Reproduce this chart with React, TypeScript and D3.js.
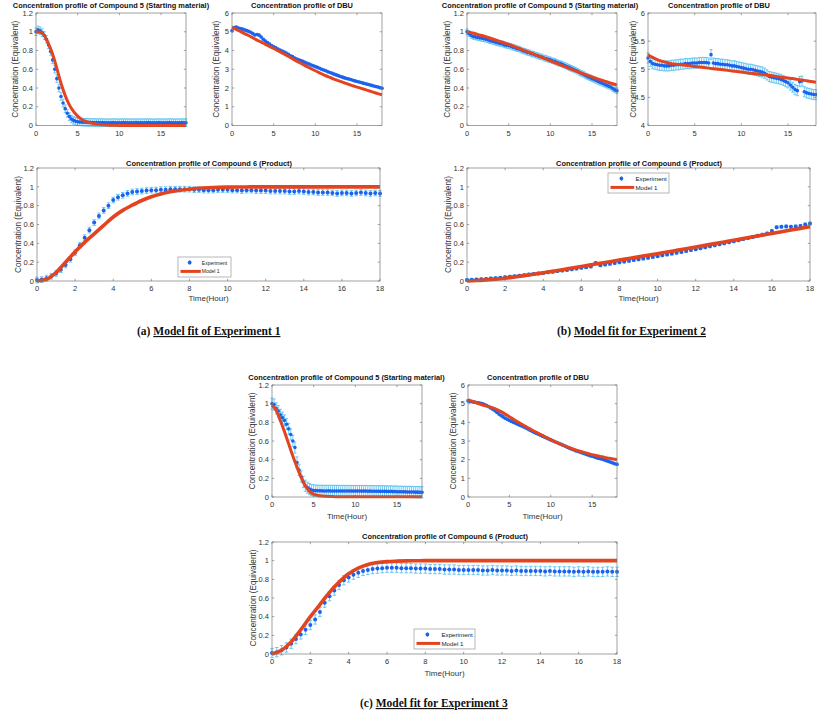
import React from 'react';
import * as d3 from 'd3';

// ---------- sampling grids (hours) ----------
const T_EXP = [0,0.25,0.5,0.75,1,1.25,1.5,1.75,2,2.25,2.5,2.75,3,3.25,3.5,3.75,4,4.25,4.5,4.75,5,5.25,5.5,5.75,6,6.25,6.5,6.75,7,7.25,7.5,7.75,8,8.25,8.5,8.75,9,9.25,9.5,9.75,10,10.25,10.5,10.75,11,11.25,11.5,11.75,12,12.25,12.5,12.75,13,13.25,13.5,13.75,14,14.25,14.5,14.75,15,15.25,15.5,15.75,16,16.25,16.5,16.75,17,17.25,17.5,17.75,18];
const T_MOD = [0,0.5,1,1.5,2,2.5,3,3.5,4,4.5,5,5.5,6,6.5,7,7.5,8,8.5,9,9.5,10,10.5,11,11.5,12,12.5,13,13.5,14,14.5,15,15.5,16,16.5,17,17.5,18];

// ---------- Experiment 1 ----------
const EXP1_C5 = [1.00,1.02,1.01,0.99, 0.96,0.92,0.86,0.79, 0.70,0.60,0.50,0.40, 0.31,0.24,0.18,0.13, 0.095,0.07,0.055,0.045, 0.04,0.038,0.036,0.035, 0.034,0.033,0.033,0.032, 0.032,0.031,0.031,0.03, 0.031,0.03,0.03,0.029, 0.03,0.031,0.03,0.03, 0.029,0.03,0.031,0.03, 0.03,0.029,0.03,0.03, 0.031,0.03,0.029,0.03, 0.03,0.03,0.031,0.03, 0.029,0.03,0.03,0.031, 0.03,0.029,0.03,0.03, 0.031,0.03,0.03,0.029, 0.03,0.03,0.031,0.03, 0.03];
const MOD1_C5 = [1.0,0.995,0.96,0.87,0.76,0.61,0.45,0.32,0.22,0.15,0.10,0.065,0.043,0.028,0.018,0.012,0.008,0.005,0.003,0.002,0.001,0.001,0.001,0,0,0,0,0,0,0,0,0,0,0,0,0,0];
const EXP1_DBU = [5.05,5.22,5.25,5.2, 5.17,5.14,5.1,5.06, 5.02,4.97,4.9,4.83, 4.85,4.82,4.72,4.6, 4.5,4.42,4.34,4.27, 4.2,4.14,4.08,4.02, 3.97,3.92,3.86,3.8, 3.72,3.68,3.6,3.55, 3.5,3.46,3.42,3.37, 3.32,3.28,3.23,3.19, 3.14,3.1,3.05,3.0, 2.96,2.92,2.87,2.83, 2.79,2.74,2.7,2.66, 2.61,2.58,2.54,2.51, 2.48,2.45,2.41,2.38, 2.35,2.32,2.29,2.26, 2.23,2.2,2.17,2.14, 2.11,2.08,2.05,2.02, 1.99];
const MOD1_DBU = [5.25,5.13,5.02,4.9,4.8,4.68,4.55,4.45,4.33,4.22,4.11,3.99,3.87,3.75,3.63,3.5,3.38,3.26,3.14,3.03,2.92,2.81,2.7,2.61,2.52,2.43,2.35,2.27,2.19,2.12,2.05,1.98,1.91,1.84,1.77,1.7,1.64];
const EXP1_P = [0.01,0.015,0.03,0.05, 0.08,0.12,0.17,0.23, 0.30,0.38,0.46,0.54, 0.62,0.69,0.75,0.8, 0.86,0.89,0.91,0.93, 0.945,0.95,0.955,0.96, 0.965,0.965,0.97,0.97, 0.975,0.975,0.975,0.975, 0.975,0.97,0.97,0.965, 0.965,0.965,0.97,0.97, 0.97,0.965,0.965,0.96, 0.965,0.965,0.96,0.96, 0.96,0.955,0.955,0.955, 0.955,0.95,0.95,0.955, 0.95,0.945,0.945,0.94, 0.94,0.94,0.935,0.93, 0.935,0.935,0.93,0.935, 0.94,0.935,0.93,0.935, 0.93];
const MOD1_P = [0,0.018,0.09,0.2,0.31,0.41,0.5,0.59,0.68,0.75,0.805,0.855,0.895,0.925,0.947,0.963,0.975,0.985,0.991,0.995,0.997,0.998,0.999,1,1,1,1,1,1,1,1,1,1,1,1,1,1];

// ---------- Experiment 2 ----------
const EXP2_C5 = [1.0,0.98,0.96,0.95, 0.945,0.94,0.935,0.93, 0.925,0.92,0.915,0.905, 0.9,0.895,0.885,0.88, 0.875,0.87,0.86,0.855, 0.85,0.845,0.835,0.83, 0.82,0.815,0.805,0.795, 0.79,0.78,0.775,0.765, 0.76,0.75,0.745,0.735, 0.73,0.72,0.715,0.705, 0.7,0.69,0.685,0.675, 0.665,0.66,0.65,0.64, 0.63,0.62,0.61,0.6, 0.59,0.58,0.565,0.555, 0.545,0.53,0.52,0.51, 0.5,0.49,0.48,0.47, 0.46,0.45,0.44,0.43, 0.42,0.41,0.395,0.38, 0.37];
const MOD2_C5 = [1.0,0.99,0.98,0.965,0.955,0.94,0.925,0.91,0.895,0.88,0.865,0.85,0.83,0.815,0.797,0.78,0.762,0.744,0.726,0.708,0.69,0.672,0.654,0.636,0.618,0.6,0.583,0.566,0.55,0.534,0.518,0.503,0.488,0.473,0.459,0.445,0.43];
const EXP2_DBU = [5.2,5.14,5.1,5.09, 5.08,5.07,5.07,5.06, 5.06,5.06,5.07,5.07, 5.08,5.08,5.09,5.09, 5.1,5.1,5.1,5.11, 5.11,5.11,5.12,5.12, 5.12,5.12,5.11,5.26, 5.11,5.1,5.1,5.09, 5.09,5.08,5.08,5.07, 5.06,5.06,5.05,5.04, 5.03,5.02,5.01,5.0, 5.0,4.99,4.98,4.97, 4.96,4.95,4.93,4.9, 4.87,4.86,4.85,4.84, 4.83,4.82,4.8,4.78, 4.76,4.72,4.68,4.64, 4.62,4.78,4.79,4.6, 4.58,4.57,4.56,4.55, 4.55];
const MOD2_DBU = [5.26,5.21,5.17,5.14,5.12,5.1,5.09,5.08,5.07,5.06,5.05,5.04,5.03,5.02,5.01,5.0,4.99,4.98,4.97,4.96,4.95,4.94,4.93,4.92,4.91,4.9,4.89,4.88,4.865,4.855,4.845,4.835,4.82,4.81,4.795,4.783,4.77];
const EXP2_P = [0.01,0.012,0.015,0.018, 0.022,0.026,0.03,0.034, 0.04,0.045,0.05,0.055, 0.062,0.068,0.074,0.08, 0.086,0.092,0.098,0.105, 0.112,0.118,0.125,0.132, 0.14,0.147,0.155,0.19, 0.168,0.175,0.183,0.19, 0.198,0.206,0.214,0.222, 0.23,0.238,0.247,0.255, 0.264,0.273,0.282,0.291, 0.3,0.309,0.318,0.328, 0.338,0.348,0.358,0.368, 0.379,0.39,0.4,0.411, 0.422,0.433,0.445,0.456, 0.468,0.48,0.492,0.504, 0.53,0.57,0.575,0.58, 0.575,0.58,0.585,0.6, 0.61];
const MOD2_P = [0,0.005,0.012,0.02,0.03,0.043,0.057,0.072,0.088,0.104,0.12,0.137,0.154,0.171,0.188,0.205,0.222,0.239,0.256,0.273,0.29,0.307,0.325,0.343,0.361,0.379,0.397,0.415,0.433,0.451,0.469,0.487,0.505,0.523,0.541,0.559,0.577];

// ---------- Experiment 3 ----------
const EXP3_C5 = [1.0,0.99,0.95,0.92, 0.88,0.85,0.82,0.78, 0.73,0.67,0.6,0.53, 0.37,0.29,0.22,0.16, 0.12,0.1,0.085,0.075, 0.07,0.068,0.067,0.066, 0.066,0.065,0.065,0.066, 0.065,0.065,0.064,0.065, 0.065,0.064,0.065,0.064, 0.064,0.065,0.064,0.063, 0.064,0.063,0.064,0.063, 0.063,0.064,0.062,0.063, 0.062,0.062,0.061,0.062, 0.06,0.061,0.06,0.06, 0.059,0.06,0.058,0.058, 0.057,0.056,0.056,0.055, 0.055,0.054,0.054,0.053, 0.053,0.052,0.052,0.051, 0.05];
const MOD3_C5 = [0.985,0.93,0.82,0.7,0.57,0.44,0.32,0.21,0.12,0.06,0.03,0.017,0.01,0.007,0.005,0.004,0.003,0.003,0.002,0.002,0.002,0.002,0.002,0.002,0.002,0.002,0.002,0.002,0.002,0.002,0.002,0.002,0.002,0.002,0.002,0.002,0.002];
const EXP3_DBU = [5.15,5.12,5.1,5.08, 5.06,5.04,5.02,4.99, 4.95,4.9,4.84,4.77, 4.7,4.62,4.53,4.44, 4.36,4.29,4.22,4.16, 4.1,4.05,4.0,3.95, 3.9,3.85,3.8,3.75, 3.7,3.64,3.58,3.52, 3.46,3.41,3.36,3.31, 3.26,3.21,3.16,3.11, 3.06,3.01,2.96,2.92, 2.87,2.82,2.77,2.72, 2.66,2.62,2.57,2.53, 2.48,2.45,2.41,2.37, 2.33,2.29,2.25,2.21, 2.18,2.15,2.11,2.08, 2.05,2.02,1.98,1.94, 1.9,1.86,1.82,1.78, 1.75];
const MOD3_DBU = [5.22,5.13,5.05,4.97,4.9,4.84,4.77,4.68,4.57,4.44,4.3,4.16,4.03,3.9,3.77,3.65,3.52,3.41,3.3,3.18,3.07,2.96,2.86,2.77,2.68,2.6,2.52,2.45,2.39,2.33,2.27,2.22,2.17,2.12,2.08,2.04,2.0];
const EXP3_P = [0.01,0.02,0.04,0.07, 0.11,0.16,0.21,0.26, 0.31,0.37,0.45,0.55, 0.62,0.68,0.74,0.79, 0.82,0.85,0.87,0.89, 0.9,0.91,0.915,0.92, 0.925,0.925,0.925,0.92, 0.92,0.92,0.915,0.915, 0.915,0.91,0.91,0.91, 0.905,0.905,0.905,0.9, 0.9,0.9,0.9,0.9, 0.895,0.895,0.9,0.895, 0.895,0.895,0.89,0.895, 0.89,0.89,0.89,0.89, 0.89,0.885,0.89,0.885, 0.885,0.885,0.885,0.88, 0.885,0.88,0.885,0.88, 0.88,0.88,0.885,0.88, 0.88];
const MOD3_P = [0,0.04,0.13,0.26,0.4,0.53,0.66,0.77,0.86,0.92,0.96,0.98,0.99,0.995,0.998,0.999,1,1,1,1,1,1,1,1,1,1,1,1,1,1,1,1,1,1,1,1,1];

// error-bar half widths (equivalents)
const ERR1_C5 = 0.04, ERR1_DBU = 0.05, ERR1_P = 0.03;
const ERR2_C5 = 0.03, ERR2_DBU = 0.09, ERR2_P = 0.015;
const ERR3_C5 = 0.06, ERR3_DBU = 0.06, ERR3_P = 0.05;

// tick labels
const X_TICKS_SMALL = [0, 5, 10, 15];
const X_TICKS_WIDE = [0, 2, 4, 6, 8, 10, 12, 14, 16, 18];
const Y_TICKS_C = [0, 0.2, 0.4, 0.6, 0.8, 1, 1.2];
const Y_TICKS_DBU = [0, 1, 2, 3, 4, 5, 6];
const Y_TICKS_DBU2 = [4, 4.5, 5, 5.5, 6];

const TITLE_C5 = 'Concentration profile of Compound 5 (Starting material)';
const TITLE_DBU = 'Concentration profile of DBU';
const TITLE_P = 'Concentration profile of Compound 6 (Product)';
const Y_LABEL = 'Concentration (Equivalent)';
const X_LABEL = 'Time(Hour)';
const LEGEND = ['Experiment', 'Model 1'];

const MARK = '#1d62ee';
const ERRC = '#4DBEEE';
const MODEL = '#e3441f';
const AXC = '#7a7a7a';
const TXT = '#333';
const SANS = '"Liberation Sans", Arial, sans-serif';

type Leg = { x: number; y: number; w: number; h: number; fs: number };
type Cfg = {
  left: number; right: number; top: number; bottom: number;
  yDomain: [number, number]; yTicks: number[]; xTicks: number[];
  title: string; titleX: number; titleY: number;
  yLabelX: number; xLabelY?: number;
  exp: number[]; mod: number[]; err: number;
  r: number; lw: number; cap: number; legend?: Leg;
};

function Panel({ c }: { c: Cfg }) {
  const xs = d3.scaleLinear().domain([0, 18]).range([c.left, c.right]);
  const ys = d3.scaleLinear().domain(c.yDomain).range([c.bottom, c.top]);
  const line = d3.line<number>().x((_, i) => xs(T_MOD[i])).y((d) => ys(d)).curve(d3.curveMonotoneX);
  const fmt = (v: number) => String(v);
  const tl = 2.2;
  const midY = (c.top + c.bottom) / 2;
  const midX = (c.left + c.right) / 2;
  return (
    <g>
      <g stroke={ERRC} strokeWidth={0.8} fill="none">
        {T_EXP.map((t, i) => {
          const x = xs(t);
          const y1 = ys(c.exp[i] - c.err);
          const y2 = ys(c.exp[i] + c.err);
          return <path key={i} d={`M${x},${y1}V${y2}M${x - c.cap},${y1}h${2 * c.cap}M${x - c.cap},${y2}h${2 * c.cap}`} />;
        })}
      </g>
      <g fill={MARK}>
        {T_EXP.map((t, i) => <circle key={i} cx={xs(t)} cy={ys(c.exp[i])} r={c.r} />)}
      </g>
      <path d={line(c.mod) || ''} fill="none" stroke={MODEL} strokeWidth={c.lw} strokeLinejoin="round" />
      <rect x={c.left} y={c.top} width={c.right - c.left} height={c.bottom - c.top} fill="none" stroke={AXC} strokeWidth={0.7} />
      <g stroke={AXC} strokeWidth={0.7}>
        {c.xTicks.map((t) => (
          <g key={'x' + t}>
            <line x1={xs(t)} x2={xs(t)} y1={c.bottom} y2={c.bottom - tl} />
            <line x1={xs(t)} x2={xs(t)} y1={c.top} y2={c.top + tl} />
          </g>
        ))}
        {c.yTicks.map((t) => (
          <g key={'y' + t}>
            <line x1={c.left} x2={c.left + tl} y1={ys(t)} y2={ys(t)} />
            <line x1={c.right} x2={c.right - tl} y1={ys(t)} y2={ys(t)} />
          </g>
        ))}
      </g>
      <g fontFamily={SANS} fontSize={7.5} fill={TXT}>
        {c.xTicks.map((t) => (
          <text key={'xl' + t} x={xs(t)} y={c.bottom + 10} textAnchor="middle">{fmt(t)}</text>
        ))}
        {c.yTicks.map((t) => (
          <text key={'yl' + t} x={c.left - 3} y={ys(t) + 2.7} textAnchor="end">{fmt(t)}</text>
        ))}
      </g>
      <text x={c.titleX} y={c.titleY} textAnchor="middle" fontFamily={SANS} fontWeight="bold" fontSize={7.4} fill="#111">{c.title}</text>
      <text transform={`translate(${c.yLabelX},${midY}) rotate(-90)`} textAnchor="middle" dy="0.35em" fontFamily={SANS} fontSize={8.2} fill={TXT}>{Y_LABEL}</text>
      {c.xLabelY !== undefined && (
        <text x={midX} y={c.xLabelY} textAnchor="middle" fontFamily={SANS} fontSize={8} fill={TXT}>{X_LABEL}</text>
      )}
      {c.legend && (
        <g>
          <rect x={c.legend.x} y={c.legend.y} width={c.legend.w} height={c.legend.h} fill="#fff" stroke="#999" strokeWidth={0.7} />
          <line x1={c.legend.x + c.legend.w * 0.22} x2={c.legend.x + c.legend.w * 0.22} y1={c.legend.y + 3} y2={c.legend.y + 8} stroke={ERRC} strokeWidth={0.7} />
          <circle cx={c.legend.x + c.legend.w * 0.22} cy={c.legend.y + 5.5} r={1.9} fill={MARK} />
          <line x1={c.legend.x + 2.5} x2={c.legend.x + c.legend.w * 0.43} y1={c.legend.y + c.legend.h * 0.72} y2={c.legend.y + c.legend.h * 0.72} stroke={MODEL} strokeWidth={3} />
          <text x={c.legend.x + c.legend.w * 0.45} y={c.legend.y + 7.5} fontFamily={SANS} fontSize={c.legend.fs} fill="#222">{LEGEND[0]}</text>
          <text x={c.legend.x + c.legend.w * 0.45} y={c.legend.y + c.legend.h * 0.72 + c.legend.fs * 0.35} fontFamily={SANS} fontSize={c.legend.fs} fill="#222">{LEGEND[1]}</text>
        </g>
      )}
    </g>
  );
}

const small = { r: 1.8, lw: 3, cap: 1.5 };
const wide = { r: 2, lw: 3.6, cap: 1.8 };

const PANELS: Cfg[] = [
  { left: 36, right: 186, top: 13, bottom: 125.5, yDomain: [0, 1.2], yTicks: Y_TICKS_C, xTicks: X_TICKS_SMALL, title: TITLE_C5, titleX: 111, titleY: 7.5, yLabelX: 15, exp: EXP1_C5, mod: MOD1_C5, err: ERR1_C5, ...small },
  { left: 232, right: 382, top: 13, bottom: 125.5, yDomain: [0, 6], yTicks: Y_TICKS_DBU, xTicks: X_TICKS_SMALL, title: TITLE_DBU, titleX: 302, titleY: 7.5, yLabelX: 216, exp: EXP1_DBU, mod: MOD1_DBU, err: ERR1_DBU, ...small },
  { left: 37, right: 380, top: 168, bottom: 281, yDomain: [0, 1.2], yTicks: Y_TICKS_C, xTicks: X_TICKS_WIDE, title: TITLE_P, titleX: 209, titleY: 165.5, yLabelX: 18, xLabelY: 301, exp: EXP1_P, mod: MOD1_P, err: ERR1_P, ...wide, legend: { x: 178, y: 257, w: 53, h: 20, fs: 5 } },
  { left: 467, right: 617, top: 13, bottom: 125.5, yDomain: [0, 1.2], yTicks: Y_TICKS_C, xTicks: X_TICKS_SMALL, title: TITLE_C5, titleX: 540, titleY: 7.5, yLabelX: 447, exp: EXP2_C5, mod: MOD2_C5, err: ERR2_C5, ...small },
  { left: 648, right: 816, top: 13, bottom: 125.5, yDomain: [4, 6], yTicks: Y_TICKS_DBU2, xTicks: X_TICKS_SMALL, title: TITLE_DBU, titleX: 719, titleY: 7.5, yLabelX: 633, exp: EXP2_DBU, mod: MOD2_DBU, err: ERR2_DBU, ...small },
  { left: 467, right: 810, top: 168, bottom: 281, yDomain: [0, 1.2], yTicks: Y_TICKS_C, xTicks: X_TICKS_WIDE, title: TITLE_P, titleX: 639, titleY: 165.5, yLabelX: 448, xLabelY: 301, exp: EXP2_P, mod: MOD2_P, err: ERR2_P, ...wide, legend: { x: 608, y: 173, w: 61, h: 20, fs: 6.2 } },
  { left: 272, right: 422, top: 385, bottom: 497, yDomain: [0, 1.2], yTicks: Y_TICKS_C, xTicks: X_TICKS_SMALL, title: TITLE_C5, titleX: 346.5, titleY: 380, yLabelX: 252, xLabelY: 519, exp: EXP3_C5, mod: MOD3_C5, err: ERR3_C5, ...small },
  { left: 468, right: 617, top: 385, bottom: 497, yDomain: [0, 6], yTicks: Y_TICKS_DBU, xTicks: X_TICKS_SMALL, title: TITLE_DBU, titleX: 538, titleY: 380, yLabelX: 453, xLabelY: 519, exp: EXP3_DBU, mod: MOD3_DBU, err: ERR3_DBU, ...small },
  { left: 272, right: 617, top: 542, bottom: 654, yDomain: [0, 1.2], yTicks: Y_TICKS_C, xTicks: X_TICKS_WIDE, title: TITLE_P, titleX: 445, titleY: 538.5, yLabelX: 253, xLabelY: 676, exp: EXP3_P, mod: MOD3_P, err: ERR3_P, ...wide, legend: { x: 414, y: 629, w: 61, h: 20, fs: 6.2 } },
];

const CAPTIONS = [
  { tag: '(a) ', text: 'Model fit of Experiment 1', x: 137, y: 335 },
  { tag: '(b) ', text: 'Model fit for Experiment 2', x: 557, y: 335 },
  { tag: '(c) ', text: 'Model fit for Experiment 3', x: 360, y: 707 },
];

export default function App() {
  return (
    <svg width={817} height={712} style={{ position: 'absolute', left: 0, top: 0, background: '#fff' }}>
      <rect width={817} height={712} fill="#fff" />
      {PANELS.map((c, i) => <Panel key={i} c={c} />)}
      {CAPTIONS.map((cap, i) => (
        <text key={i} x={cap.x} y={cap.y} fontFamily='"Liberation Serif", "Times New Roman", serif' fontWeight="bold" fontSize={11.5} fill="#111">
          {cap.tag}
          <tspan textDecoration="underline">{cap.text}</tspan>
        </text>
      ))}
    </svg>
  );
}
